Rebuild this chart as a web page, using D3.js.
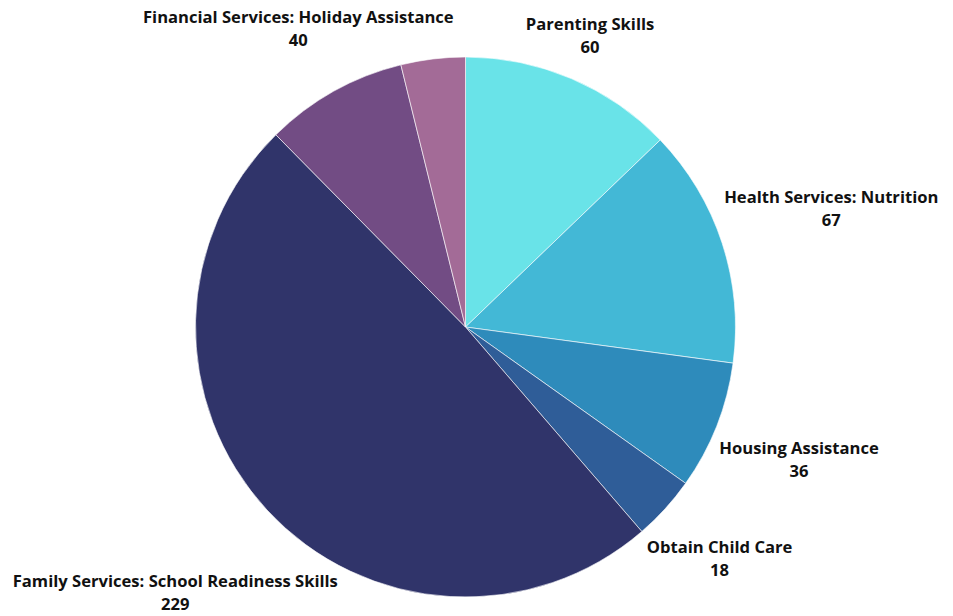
<!DOCTYPE html>
<html>
<head>
<meta charset="utf-8">
<script src="https://cdn.jsdelivr.net/npm/d3@7"></script>
<style>
  body { margin: 0; background: #fff; }
  svg { display: block; }
  .lbl { font-family: "Open Sans", Lato, sans-serif; font-weight: 700; font-size: 16.6px; fill: #111; }
</style>
</head>
<body>
<svg width="953" height="616"></svg>
<script>
const categories = ["Parenting Skills", "Health Services: Nutrition", "Housing Assistance",
  "Obtain Child Care", "Family Services: School Readiness Skills",
  "Financial Services: Holiday Assistance", ""];
const values = [60, 67, 36, 18, 229, 40, 18];
const colors = ["#69e3e8", "#43b8d6", "#2e8bbb", "#2f5d98", "#30346a", "#724c84", "#a36b97"];

const svg = d3.select("svg");
const W = 953, H = 616;
const cx = 465.5, cy = 327, radius = 270, labelGap = 6;

const data = categories.map((c, i) => ({name: c, value: values[i], color: colors[i]}));

const pie = d3.pie().sort(null).value(d => d.value);
const arc = d3.arc().innerRadius(0).outerRadius(radius);

const g = svg.append("g").attr("transform", `translate(${cx},${cy})`);

const arcs = pie(data);

g.selectAll("path")
  .data(arcs)
  .enter().append("path")
    .attr("d", arc)
    .attr("fill", d => d.data.color)
    .attr("stroke", "#fff")
    .attr("stroke-width", 0.6);

// labels: box placed along the slice's mid angle so its nearest corner clears the pie
arcs.filter(d => d.data.name !== "").forEach(d => {
  const a = (d.startAngle + d.endAngle) / 2;
  const ux = Math.sin(a), uy = -Math.cos(a);
  const t = g.append("text").attr("class", "lbl").attr("text-anchor", "middle");
  t.append("tspan").attr("x", 0).attr("dy", 0).text(d.data.name);
  t.append("tspan").attr("x", 0).attr("dy", 23).text(d.value);
  const bb = t.node().getBBox();
  const hw = bb.width / 2, hh = bb.height / 2;
  const oy = bb.y + hh; // bbox centre offset from text origin
  // nearest corner distance for a given centre distance
  const cornerDist = dist => {
    const px = ux * dist - Math.sign(ux) * hw;
    const py = uy * dist - Math.sign(uy) * hh;
    return Math.hypot(px, py);
  };
  let lo = 0, hi = 1000;
  for (let k = 0; k < 60; k++) {
    const mid = (lo + hi) / 2;
    if (cornerDist(mid) < radius + labelGap) lo = mid; else hi = mid;
  }
  const dist = (lo + hi) / 2;
  let bx = ux * dist, by = uy * dist;
  // keep the box inside the page
  by = Math.min(by, H - 1 - cy - hh);
  by = Math.max(by, 1 - cy + hh);
  bx = Math.max(Math.min(bx, W - 1 - cx - hw), 1 - cx + hw);
  t.attr("transform", `translate(${bx},${by - oy})`);
});
</script>
</body>
</html>
